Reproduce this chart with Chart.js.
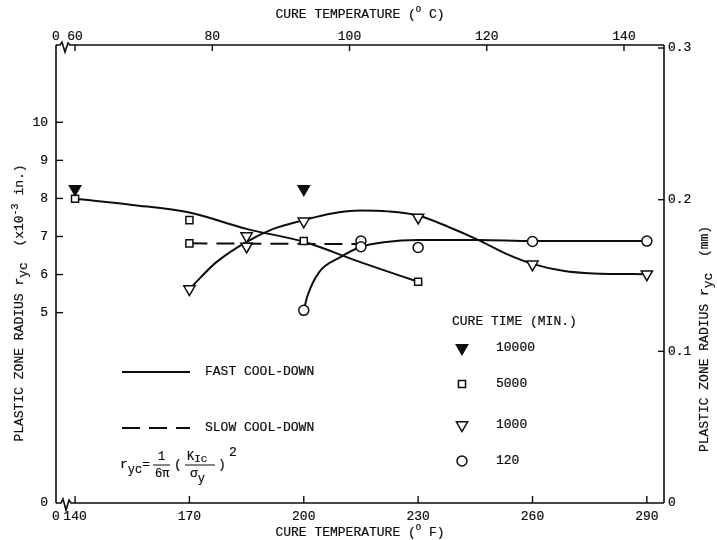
<!DOCTYPE html>
<html>
<head>
<meta charset="utf-8">
<title>Plastic zone radius vs cure temperature</title>
<script src="https://cdn.jsdelivr.net/npm/chart.js@4.4.1/dist/chart.umd.min.js"></script>
<style>
  html, body { margin: 0; padding: 0; background: #fff; }
  #zoneChart { display: block; }
</style>
</head>
<body>
<canvas id="zoneChart" width="717" height="540"></canvas>
<script>
// axes: cure temperature in deg F (bottom) and deg C (top), radius in 1e-3 in (left) and mm (right)
const tempMinF = 135;
const tempMaxF = 294.5;
const tempTicksF = [140, 170, 200, 230, 260, 290];
const tempTicksC = [60, 80, 100, 120, 140];
const radiusTicks = [0, 5, 6, 7, 8, 9, 10];
const radiusMax = 12.03;
const radiusTicksMm = [0, 0.1, 0.2, 0.3];
const radiusMaxMm = 0.302;

// measured points by cure time (min)
const cureTimes = ['10000', '5000', '1000', '120'];
const tempF_10000 = [140, 200];
const radius_10000 = [8.25, 8.25];
const tempF_5000 = [140, 170, 170, 200, 230];
const radius_5000 = [7.99, 7.43, 6.82, 6.88, 5.81];
const tempF_1000 = [170, 185, 185, 200, 230, 260, 290];
const radius_1000 = [5.62, 7.01, 6.74, 7.40, 7.50, 6.27, 6.01];
const tempF_120 = [200, 215, 215, 230, 260, 290];
const radius_120 = [5.06, 6.88, 6.73, 6.71, 6.87, 6.88];

// hand-fitted curves
const fast5000F = [140, 155, 170, 185, 200, 215, 230];
const fast5000R = [7.99, 7.83, 7.63, 7.2, 6.86, 6.32, 5.81];
const fast1000F = [170, 177, 185, 192, 200, 207, 215, 222, 230, 238, 246, 253, 260, 268, 276, 290];
const fast1000R = [5.62, 6.32, 6.86, 7.2, 7.43, 7.6, 7.68, 7.66, 7.55, 7.25, 6.9, 6.55, 6.28, 6.1, 6.03, 6.01];
const fast120F = [200, 201, 204, 209.5, 215, 221, 230, 246, 260, 290];
const fast120R = [5.06, 5.45, 6.06, 6.45, 6.73, 6.85, 6.91, 6.91, 6.88, 6.88];
const slow5000F = [170, 214];
const slow5000R = [6.82, 6.80];

const INK = '#0d0d0d';
const FONT = '"Liberation Mono", "DejaVu Sans Mono", monospace';
const TEXT_STROKE = 0.2;

const toC = f => (f - 32) / 1.8;
const pairs = (xs, ys) => xs.map((x, i) => ({ x: x, y: ys[i] }));

const markStyles = {
    '10000': { pointStyle: 'triangle', rotation: 180, radius: 6.5, fill: INK },
    '5000': { pointStyle: 'rect', rotation: 0, radius: 5, fill: '#fff' },
    '1000': { pointStyle: 'triangle', rotation: 180, radius: 6.5, fill: '#fff' },
    '120': { pointStyle: 'circle', rotation: 0, radius: 5, fill: '#fff' }
};

function markSet(key, xs, ys) {
    const m = markStyles[key];
    return {
        data: pairs(xs, ys),
        showLine: false,
        pointStyle: m.pointStyle,
        pointRotation: m.rotation,
        pointRadius: m.radius,
        pointHoverRadius: m.radius,
        pointBackgroundColor: m.fill,
        pointBorderColor: INK,
        pointBorderWidth: 1.5
    };
}

function curveSet(xs, ys, dash) {
    return {
        data: pairs(xs, ys),
        showLine: true,
        pointRadius: 0,
        pointHoverRadius: 0,
        borderColor: INK,
        borderWidth: 2,
        borderDash: dash || [],
        cubicInterpolationMode: 'monotone',
        fill: false
    };
}

// text with sub/superscripts: parts = [[text, dy, size], ...]
function richText(c, parts, x, y, align) {
    let w = 0;
    parts.forEach(p => { c.font = (p[2] || 13) + 'px ' + FONT; w += c.measureText(p[0]).width; });
    let cx = align === 'center' ? x - w / 2 : x;
    c.lineWidth = TEXT_STROKE;
    c.strokeStyle = INK;
    parts.forEach(p => {
        c.font = (p[2] || 13) + 'px ' + FONT;
        c.fillText(p[0], cx, y + (p[1] || 0));
        c.strokeText(p[0], cx, y + (p[1] || 0));
        cx += c.measureText(p[0]).width;
    });
}

function path(c, pts) {
    c.beginPath();
    pts.forEach((p, i) => i ? c.lineTo(p[0], p[1]) : c.moveTo(p[0], p[1]));
    c.stroke();
}

const frame = {
    id: 'frame',
    afterDraw(chart) {
        const c = chart.ctx;
        const a = chart.chartArea;
        const s = chart.scales;
        c.save();
        c.strokeStyle = INK;
        c.fillStyle = INK;
        c.lineWidth = 1.6;

        // box, with a break right after the origin on both temperature axes
        path(c, [[a.left, a.top], [a.left, a.bottom]]);
        path(c, [[a.right, a.top], [a.right, a.bottom]]);
        path(c, [[a.left, a.bottom], [a.left + 5, a.bottom], [a.left + 7, a.bottom - 4],
                 [a.left + 10, a.bottom + 7], [a.left + 13, a.bottom - 3], [a.left + 15, a.bottom], [a.right, a.bottom]]);
        path(c, [[a.left, a.top], [a.left + 4, a.top], [a.left + 6, a.top - 3],
                 [a.left + 9, a.top + 7], [a.left + 12, a.top - 2], [a.left + 14, a.top], [a.right, a.top]]);

        // tick marks point into the plot
        c.lineWidth = 1.4;
        tempTicksF.forEach(v => { const px = s.x.getPixelForValue(v); path(c, [[px, a.bottom], [px, a.bottom - 7]]); });
        tempTicksC.forEach(v => { const px = s.x2.getPixelForValue(v); path(c, [[px, a.top], [px, a.top + 6]]); });
        radiusTicks.slice(1).forEach(v => { const py = s.y.getPixelForValue(v); path(c, [[a.left, py], [a.left + 7, py]]); });
        radiusTicksMm.slice(1).forEach(v => { const py = s.y2.getPixelForValue(v); path(c, [[a.right, py], [a.right - 6, py]]); });

        // axis titles
        c.textBaseline = 'middle';
        richText(c, [['CURE TEMPERATURE ('], ['O', -5, 9], [' C)']], 360, 15, 'center');
        richText(c, [['CURE TEMPERATURE ('], ['O', -5, 9], [' F)']], 360, 533, 'center');

        c.save();
        c.translate(20, 303);
        c.rotate(-Math.PI / 2);
        richText(c, [['PLASTIC ZONE RADIUS r'], ['yc', 4], ['  (x10'], ['-3', -5, 10], [' in.)']], 0, 0, 'center');
        c.restore();

        c.save();
        c.translate(705, 339);
        c.rotate(-Math.PI / 2);
        richText(c, [['PLASTIC ZONE RADIUS r'], ['yc', 4], ['  (mm)', 0, 13]], 0, 0, 'center');
        c.restore();

        // cooling legend
        c.lineWidth = 2;
        path(c, [[122, 372], [190, 372]]);
        c.setLineDash([18, 9]);
        path(c, [[122, 428], [190, 428]]);
        c.setLineDash([]);
        richText(c, [['FAST COOL-DOWN']], 205, 372);
        richText(c, [['SLOW COOL-DOWN']], 205, 428);

        // r_yc = 1/(6 pi) (K_Ic / sigma_y)^2
        richText(c, [['r'], ['yc', 5, 12], ['=']], 120, 465);
        c.lineWidth = 1;
        path(c, [[153, 465], [170, 465]]);
        path(c, [[185, 465], [215, 465]]);
        richText(c, [['1', 0, 12]], 158, 457);
        richText(c, [['6\u03c0', 0, 12]], 155, 474);
        richText(c, [['(']], 174, 465);
        richText(c, [['K', 0, 12], ['Ic', 2, 11]], 187, 457);
        richText(c, [['\u03c3', 0, 13], ['y', 5, 12]], 190, 474);
        richText(c, [[')']], 218, 465);
        richText(c, [['2', 0, 13]], 229, 453);

        // cure time legend
        richText(c, [['CURE TIME (MIN.)']], 452, 322);
        const rows = [348, 384, 425, 461];
        cureTimes.forEach((k, i) => {
            const m = markStyles[k];
            c.fillStyle = m.fill;
            c.strokeStyle = INK;
            c.lineWidth = 1.5;
            Chart.helpers.drawPoint(c, { pointStyle: m.pointStyle, rotation: m.rotation, radius: m.radius, borderWidth: 1.5 }, 462, rows[i]);
            c.fillStyle = INK;
            richText(c, [[k]], 496, rows[i]);
        });
        c.restore();
    }
};

document.addEventListener('DOMContentLoaded', function () {
    const ctx = document.getElementById('zoneChart').getContext('2d');
    const tickFont = { family: FONT, size: 13 };
    const tickText = { font: tickFont, color: INK, textStrokeColor: INK, textStrokeWidth: TEXT_STROKE, autoSkip: false };
    const hidden = { display: false, drawTicks: false };

    const zoneChart = new Chart(ctx, {
        type: 'scatter',
        data: {
            datasets: [
                markSet('10000', tempF_10000, radius_10000),
                markSet('5000', tempF_5000, radius_5000),
                markSet('1000', tempF_1000, radius_1000),
                markSet('120', tempF_120, radius_120),
                curveSet(fast5000F, fast5000R),
                curveSet(fast1000F, fast1000R),
                curveSet(fast120F, fast120R),
                curveSet(slow5000F, slow5000R, [18, 9])
            ]
        },
        options: {
            responsive: false,
            animation: false,
            events: [],
            layout: { padding: 0 },
            plugins: { legend: { display: false }, tooltip: { enabled: false } },
            scales: {
                x: {
                    type: 'linear', position: 'bottom', min: tempMinF, max: tempMaxF,
                    grid: hidden, border: { display: false },
                    afterBuildTicks: s => { s.ticks = [tempMinF].concat(tempTicksF).map(v => ({ value: v })); },
                    afterFit: s => { s.height = 37; },
                    ticks: Object.assign({}, tickText, { padding: 6, maxRotation: 0,
                             callback: v => v === tempMinF ? '0' : String(v) })
                },
                x2: {
                    type: 'linear', position: 'top', min: toC(tempMinF), max: toC(tempMaxF),
                    grid: hidden, border: { display: false },
                    afterBuildTicks: s => { s.ticks = [toC(tempMinF)].concat(tempTicksC).map(v => ({ value: v })); },
                    afterFit: s => { s.height = 45; },
                    ticks: Object.assign({}, tickText, { padding: 1, maxRotation: 0,
                             callback: v => v === toC(tempMinF) ? '0' : String(v) })
                },
                y: {
                    type: 'linear', position: 'left', min: 0, max: radiusMax,
                    grid: hidden, border: { display: false },
                    afterBuildTicks: s => { s.ticks = radiusTicks.map(v => ({ value: v })); },
                    afterFit: s => { s.width = 56; },
                    ticks: Object.assign({}, tickText, { padding: 8 })
                },
                y2: {
                    type: 'linear', position: 'right', min: 0, max: radiusMaxMm,
                    grid: hidden, border: { display: false },
                    afterBuildTicks: s => { s.ticks = radiusTicksMm.map(v => ({ value: v })); },
                    afterFit: s => { s.width = 53; },
                    ticks: Object.assign({}, tickText, { padding: 4,
                             callback: v => v === 0 ? '0' : v.toFixed(1) })
                }
            }
        },
        plugins: [frame]
    });
});
</script>
</body>
</html>
